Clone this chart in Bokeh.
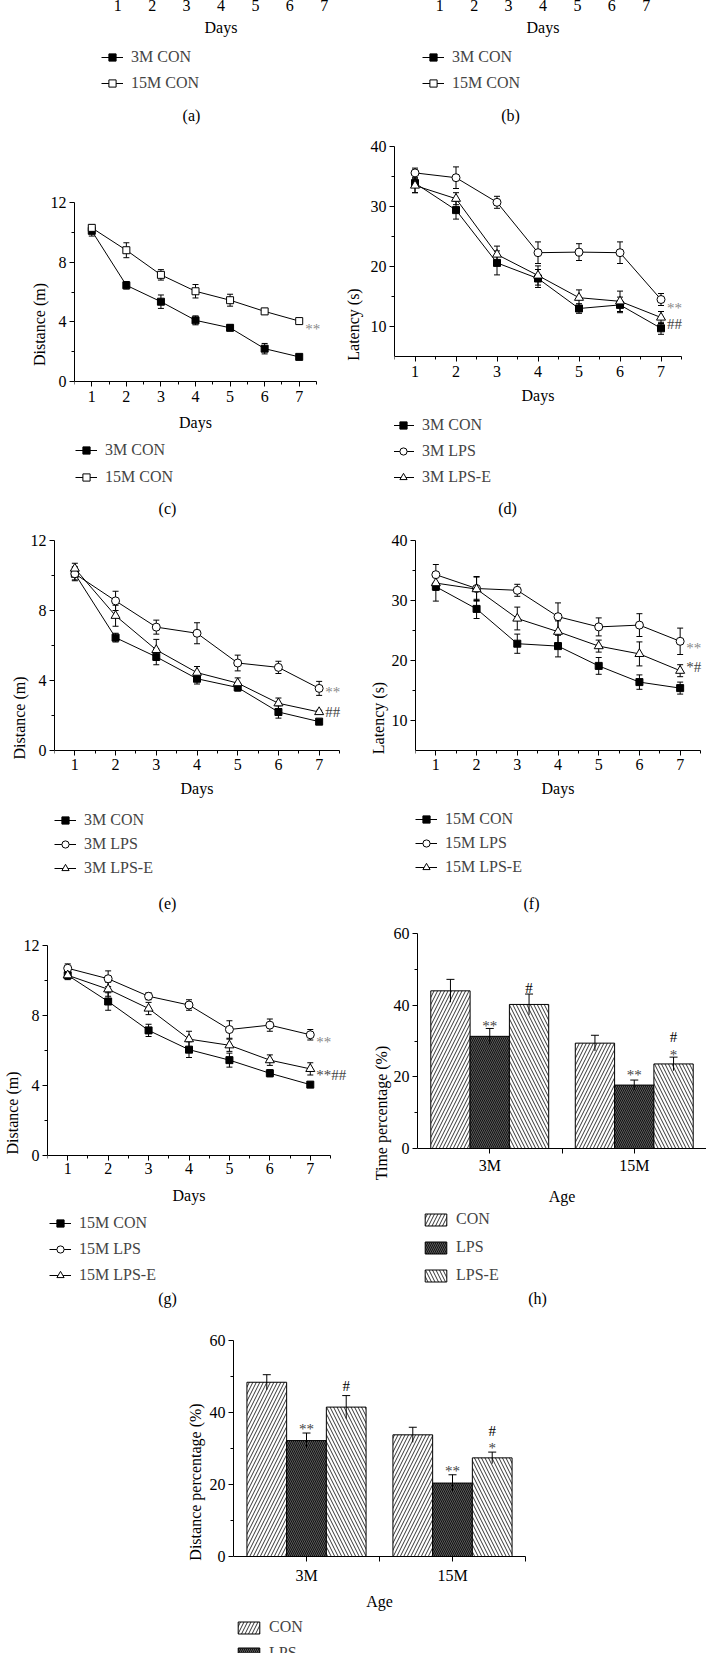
import numpy as np
from bokeh.plotting import figure
from bokeh.layouts import column, row
from bokeh.models import (ColumnDataSource, Legend, LegendItem, Whisker, TeeHead,
                          FixedTicker, Range1d, Label, LabelSet)
from bokeh.core.properties import value, field
from bokeh.embed import file_html
from bokeh.resources import INLINE

FONT = "Liberation Serif"

# ---------------- data ----------------
days = [1, 2, 3, 4, 5, 6, 7]
half_days = [0.5, 1.5, 2.5, 3.5, 4.5, 5.5, 6.5, 7.5]

dist_3m_con = [10.1, 6.45, 5.35, 4.1, 3.6, 2.2, 1.65]
dist_3m_con_err = [0.35, 0.25, 0.45, 0.3, 0.2, 0.35, 0.1]
dist_15m_con = [10.3, 8.8, 7.15, 6.05, 5.45, 4.7, 4.05]
dist_15m_con_err = [0.2, 0.5, 0.35, 0.45, 0.4, 0.2, 0.1]
dist_3m_lps = [10.1, 8.55, 7.05, 6.7, 5.0, 4.75, 3.55]
dist_3m_lps_err = [0.4, 0.55, 0.4, 0.6, 0.45, 0.35, 0.4]
dist_3m_lpse = [10.4, 7.7, 5.75, 4.45, 3.85, 2.7, 2.2]
dist_3m_lpse_err = [0.3, 0.6, 0.6, 0.35, 0.3, 0.3, 0.1]
dist_15m_lps = [10.7, 10.1, 9.1, 8.6, 7.2, 7.45, 6.9]
dist_15m_lps_err = [0.25, 0.45, 0.2, 0.3, 0.5, 0.35, 0.3]
dist_15m_lpse = [10.3, 9.5, 8.4, 6.65, 6.3, 5.45, 4.95]
dist_15m_lpse_err = [0.25, 0.4, 0.35, 0.45, 0.35, 0.3, 0.35]

lat_3m_con = [33.9, 29.4, 20.6, 18.0, 13.0, 13.6, 9.7]
lat_3m_con_err = [1.6, 1.5, 2.0, 1.5, 0.8, 1.3, 1.0]
lat_3m_lps = [35.6, 34.8, 30.7, 22.3, 22.4, 22.3, 14.5]
lat_3m_lps_err = [0.8, 1.8, 1.0, 1.8, 1.4, 1.8, 1.0]
lat_3m_lpse = [33.5, 31.3, 22.0, 18.5, 14.8, 14.2, 11.5]
lat_3m_lpse_err = [1.2, 1.0, 1.4, 1.6, 1.3, 1.7, 1.0]
lat_15m_con = [32.3, 28.6, 22.8, 22.4, 19.1, 16.4, 15.4]
lat_15m_con_err = [2.4, 1.6, 1.6, 1.8, 1.4, 1.2, 1.0]
lat_15m_lps = [34.3, 32.0, 31.7, 27.3, 25.6, 25.9, 23.2]
lat_15m_lps_err = [1.7, 2.0, 1.0, 2.3, 1.5, 1.9, 2.2]
lat_15m_lpse = [32.9, 31.9, 27.0, 24.8, 22.4, 21.1, 18.3]
lat_15m_lpse_err = [1.2, 2.0, 1.9, 1.8, 1.0, 2.0, 1.0]

ages = ["3M", "15M"]
groups = ["CON", "LPS", "LPS-E"]
time_pct_3m = [44.0, 31.3, 40.2]
time_pct_3m_err = [3.2, 2.2, 2.9]
time_pct_15m = [29.4, 17.7, 23.6]
time_pct_15m_err = [2.2, 1.4, 1.9]
dist_pct_3m = [48.4, 32.2, 41.5]
dist_pct_3m_err = [2.1, 2.1, 3.2]
dist_pct_15m = [33.8, 20.4, 27.4]
dist_pct_15m_err = [2.1, 2.3, 1.6]
marks_3m = ["", "**", "#"]
marks_15m = ["", "**", "*"]
marks_15m_top = ["", "", "#"]

GRAY = "#8a8a8a"
DARK = "#444444"


# ---------------- helpers ----------------
class Geo:
    """Maps page pixel positions of one panel onto its data ranges."""

    def __init__(self, x0, width, row_start, height, fl, fw, xlo, xhi, ylo, yhi, yt_abs, yb_abs):
        self.x0, self.width, self.row_start, self.height, self.fl = x0, width, row_start, height, fl
        self.xlo, self.ylo, self.yb_abs = xlo, ylo, yb_abs
        self.kx = fw / float(xhi - xlo)
        self.ky = (yb_abs - yt_abs) / float(yhi - ylo)
        yt, yb = yt_abs - row_start, yb_abs - row_start
        self.xr = (xlo, xlo + (width - fl) / self.kx)
        self.yr = (ylo - (height - yb) / self.ky, yhi + yt / self.ky)

    def to_data(self, xa, ya):
        return self.xlo + (xa - self.x0 - self.fl) / self.kx, self.ylo - (ya - self.yb_abs) / self.ky

    def legend_loc(self, glyph_x_abs, r1_abs, n, rowh, pitch):
        hleg = n * rowh + (n - 1) * (pitch - rowh)
        vy = (self.row_start + self.height) - (r1_abs - rowh / 2.0) - hleg
        return (glyph_x_abs - self.x0 - self.fl, vy)


def new_fig(g, **kw):
    p = figure(width=g.width, height=g.height, x_range=Range1d(*g.xr), y_range=Range1d(*g.yr),
               output_backend="svg", toolbar_location=None, title=None,
               min_border_left=g.fl, min_border_right=0, min_border_top=0, min_border_bottom=0,
               **kw)
    p.outline_line_color = None
    p.grid.visible = False
    p.background_fill_color = "white"
    p.border_fill_color = "white"
    return p


def style_axis(ax, standoff, lab_standoff, fs="16px"):
    ax.axis_line_color = "black"
    ax.axis_line_width = 1
    ax.major_tick_line_color = "black"
    ax.minor_tick_line_color = "black"
    ax.major_tick_in = 0
    ax.major_tick_out = 5
    ax.minor_tick_in = 0
    ax.minor_tick_out = 3
    ax.major_label_text_font = FONT
    ax.major_label_text_font_size = fs
    ax.major_label_text_color = "black"
    ax.major_label_standoff = standoff
    ax.axis_label_text_font = FONT
    ax.axis_label_text_font_size = fs
    ax.axis_label_text_font_style = "normal"
    ax.axis_label_text_color = "black"
    ax.axis_label_standoff = lab_standoff


MARKERS = {"sq": dict(marker="square", size=7, fill_color="black"),
           "sqo": dict(marker="square", size=7, fill_color="white"),
           "ci": dict(marker="circle", size=8, fill_color="white"),
           "tr": dict(marker="triangle", size=9, fill_color="white")}


def draw_series(p, vals, errs, mk):
    src = ColumnDataSource(dict(x=days, y=vals,
                                lo=[v - e for v, e in zip(vals, errs)],
                                hi=[v + e for v, e in zip(vals, errs)]))
    p.add_layout(Whisker(source=src, base="x", lower="lo", upper="hi",
                         line_color="black", line_width=1,
                         upper_head=TeeHead(size=6, line_color="black", line_width=1),
                         lower_head=TeeHead(size=6, line_color="black", line_width=1)))
    lr = p.line("x", "y", source=src, line_color="black", line_width=1)
    sr = p.scatter("x", "y", source=src, line_color="black", line_width=1, **MARKERS[mk])
    return [lr, sr]


def add_legend(p, g, items, glyph_x, r1, pitch, rowh=18, glyph_w=22, glyph_h=18, standoff=8):
    leg = Legend(items=items, location=g.legend_loc(glyph_x, r1, len(items), rowh, pitch),
                 orientation="vertical", border_line_color=None, background_fill_alpha=0,
                 label_text_font=FONT, label_text_font_size="16px",
                 glyph_width=glyph_w, glyph_height=glyph_h, label_height=rowh,
                 label_standoff=standoff, spacing=int(round(pitch - rowh)), padding=0, margin=0)
    p.add_layout(leg, "center")


def add_caption(p, g, text, cx, cy):
    x, y = g.to_data(cx, cy)
    p.add_layout(Label(x=x, y=y, text=text, text_align="center", text_baseline="middle",
                       text_font=FONT, text_font_size="16px", text_color="black"))


def add_notes(p, notes, dx=6, fs="15px"):
    src = ColumnDataSource(dict(x=[7] * len(notes), y=[n[1] for n in notes],
                                t=[n[0] for n in notes], dy=[n[2] for n in notes],
                                c=[n[3] for n in notes]))
    p.add_layout(LabelSet(x="x", y="y", text="t", source=src, x_offset=dx, y_offset="dy",
                          text_color=field("c"), text_font=value(FONT),
                          text_font_size=value(fs), text_baseline="middle",
                          text_align="left"))


def line_panel(g, ymin, ymaj, yminor, ylabel, series, notes, caption, cap_xy,
               glyph_x, r1, pitch, xs_off, xl_off, ys_off, yl_off):
    p = new_fig(g)
    p.xaxis.fixed_location = ymin
    p.xaxis.bounds = (0.5, 7.5)
    p.yaxis.bounds = (ymin, ymaj[-1])
    p.xaxis.ticker = FixedTicker(ticks=days, minor_ticks=half_days)
    p.yaxis.ticker = FixedTicker(ticks=ymaj, minor_ticks=yminor)
    p.xaxis.axis_label = "Days"
    p.yaxis.axis_label = ylabel
    style_axis(p.xaxis[0], xs_off, xl_off)
    style_axis(p.yaxis[0], ys_off, yl_off)
    items = []
    for label, vals, errs, mk in series:
        items.append(LegendItem(label=label, renderers=draw_series(p, vals, errs, mk)))
    add_legend(p, g, items, glyph_x, r1, pitch)
    add_caption(p, g, caption, *cap_xy)
    add_notes(p, notes)
    return p


def top_panel(g, caption, cap_xy, glyph_x, r1, pitch):
    # panels (a)/(b) are cropped by the page edge: only their x axis labels,
    # legends and captions remain visible
    p = new_fig(g, y_axis_location=None)
    p.xaxis.fixed_location = 0
    p.xaxis.bounds = (0.5, 7.5)
    p.xaxis.ticker = FixedTicker(ticks=days, minor_ticks=[])
    p.xaxis.axis_label = "Days"
    style_axis(p.xaxis[0], 0, 5)
    p.xaxis.axis_line_color = None
    p.xaxis.major_tick_line_color = None
    p.xaxis.minor_tick_line_color = None
    p.xaxis.major_tick_out = 0
    p.xaxis.minor_tick_out = 0
    items = []
    for label, mk in (("3M CON", "sq"), ("15M CON", "sqo")):
        src = ColumnDataSource(dict(x=np.array(days, dtype=float),
                                    y=np.full(len(days), np.nan)))
        lr = p.line("x", "y", source=src, line_color="black", line_width=1)
        sr = p.scatter("x", "y", source=src, line_color="black", line_width=1, **MARKERS[mk])
        items.append(LegendItem(label=label, renderers=[lr, sr]))
    add_legend(p, g, items, glyph_x, r1, pitch)
    add_caption(p, g, caption, *cap_xy)
    return p


BAR_STYLE = [dict(fill_color="white", hatch_pattern="right_diagonal_line", hatch_scale=7),
             dict(fill_color="#5a5a5a", hatch_pattern="left_diagonal_line", hatch_scale=4),
             dict(fill_color="white", hatch_pattern="left_diagonal_line", hatch_scale=7)]


def bar_panel(g, ylabel, v3, e3, v15, e15, mark_dys, caption, cap_xy, glyph_x, r1, pitch,
              xs_off, xl_off, ys_off, yl_off):
    p = new_fig(g)
    p.xaxis.fixed_location = 0
    p.xaxis.bounds = (0.5, 2.5)
    p.yaxis.bounds = (0, 60)
    p.xaxis.ticker = FixedTicker(ticks=[1, 2], minor_ticks=[1.5, 2.5])
    p.xaxis.major_label_overrides = {1: ages[0], 2: ages[1]}
    p.yaxis.ticker = FixedTicker(ticks=[0, 20, 40, 60], minor_ticks=[10, 30, 50])
    p.xaxis.axis_label = "Age"
    p.yaxis.axis_label = ylabel
    style_axis(p.xaxis[0], xs_off, xl_off)
    style_axis(p.yaxis[0], ys_off, yl_off)
    p.xaxis.minor_tick_out = 5
    bw = 0.272
    items = []
    nx, ny, nt, nd, nc = [], [], [], [], []
    for gi, grp in enumerate(groups):
        xs = [k + 1 + (gi - 1) * bw for k in range(len(ages))]
        tops = [v3[gi], v15[gi]]
        errs = [e3[gi], e15[gi]]
        src = ColumnDataSource(dict(x=xs, top=tops,
                                    lo=[t - e for t, e in zip(tops, errs)],
                                    hi=[t + e for t, e in zip(tops, errs)]))
        r = p.vbar(x="x", top="top", bottom=0, width=bw, source=src,
                   line_color="black", line_width=1, hatch_color="black",
                   hatch_weight=0.8, **BAR_STYLE[gi])
        p.add_layout(Whisker(source=src, base="x", lower="lo", upper="hi",
                             line_color="black", line_width=1, level="annotation",
                             upper_head=TeeHead(size=8, line_color="black", line_width=1),
                             lower_head=None))
        items.append(LegendItem(label=grp, renderers=[r]))
        for k, marks in enumerate((marks_3m, marks_15m)):
            if marks[gi]:
                nx.append(xs[k]); ny.append(tops[k] + errs[k]); nt.append(marks[gi])
                nd.append(mark_dys[(k, gi, 0)]); nc.append(DARK if "*" in marks[gi] else "black")
        if marks_15m_top[gi]:
            nx.append(xs[1]); ny.append(tops[1] + errs[1]); nt.append(marks_15m_top[gi])
            nd.append(mark_dys[(1, gi, 1)]); nc.append("black")
    add_legend(p, g, items, glyph_x, r1, pitch, glyph_w=27, glyph_h=15, standoff=7)
    if caption:
        add_caption(p, g, caption, *cap_xy)
    src = ColumnDataSource(dict(x=nx, y=ny, t=nt, dy=nd, c=nc))
    p.add_layout(LabelSet(x="x", y="y", text="t", source=src, y_offset="dy",
                          text_color=field("c"), text_font=value(FONT),
                          text_font_size=value("15px"), text_baseline="middle",
                          text_align="center"))
    return p


# ---------------- panels (positions in page pixels) ----------------
ga = Geo(0, 361, -8, 136, 108, 241, 0.5, 7.5, 0, 10, -11, -1)
gb = Geo(361, 353, -8, 136, 69, 241, 0.5, 7.5, 0, 10, -11, -1)
pa = top_panel(ga, "(a)", (199, 115), 109, 57, 26)
pb = top_panel(gb, "(b)", (518, 115), 430, 57, 26)

gc = Geo(0, 346, 128, 392, 82, 242, 0.5, 7.5, 0, 12, 202, 381)
pc = line_panel(gc, 0, [0, 4, 8, 12], [2, 6, 10], "Distance (m)",
                [("3M CON", dist_3m_con, dist_3m_con_err, "sq"),
                 ("15M CON", dist_15m_con, dist_15m_con_err, "sqo")],
                [("**", dist_15m_con[-1], -8, GRAY)],
                "(c)", (175, 508), 83, 450, 27, 4, 9, 3, 0)

gd = Geo(346, 368, 128, 392, 56, 287, 0.5, 7.5, 5, 40, 146, 356)
pd = line_panel(gd, 5, [10, 20, 30, 40], [15, 25, 35], "Latency (s)",
                [("3M CON", lat_3m_con, lat_3m_con_err, "sq"),
                 ("3M LPS", lat_3m_lps, lat_3m_lps_err, "ci"),
                 ("3M LPS-E", lat_3m_lpse, lat_3m_lpse_err, "tr")],
                [("**", lat_3m_lps[-1], -8, GRAY), ("##", lat_3m_lpse[-1], -6, DARK)],
                "(d)", (515, 508), 400, 425, 26, 4, 7, 3, 6)

ge = Geo(0, 355, 520, 395, 62, 285, 0.5, 7.5, 0, 12, 540, 750)
pe = line_panel(ge, 0, [0, 4, 8, 12], [2, 6, 10], "Distance (m)",
                [("3M CON", dist_3m_con, dist_3m_con_err, "sq"),
                 ("3M LPS", dist_3m_lps, dist_3m_lps_err, "ci"),
                 ("3M LPS-E", dist_3m_lpse, dist_3m_lpse_err, "tr")],
                [("**", dist_3m_lps[-1], -4, GRAY), ("##", dist_3m_lpse[-1], 0, DARK)],
                "(e)", (175, 903), 62, 820, 24, 3, 7, 3, 0)

gf = Geo(355, 359, 520, 395, 68, 285, 0.5, 7.5, 5, 40, 540, 750)
pf = line_panel(gf, 5, [10, 20, 30, 40], [15, 25, 35], "Latency (s)",
                [("15M CON", lat_15m_con, lat_15m_con_err, "sq"),
                 ("15M LPS", lat_15m_lps, lat_15m_lps_err, "ci"),
                 ("15M LPS-E", lat_15m_lpse, lat_15m_lpse_err, "tr")],
                [("**", lat_15m_lps[-1], -7, GRAY), ("*#", lat_15m_lpse[-1], 4, DARK)],
                "(f)", (539, 903), 423, 819, 24, 3, 7, 3, 2)

gg = Geo(0, 358, 915, 395, 55, 283, 0.5, 7.5, 0, 12, 945, 1155)
pg = line_panel(gg, 0, [0, 4, 8, 12], [2, 6, 10], "Distance (m)",
                [("15M CON", dist_15m_con, dist_15m_con_err, "sq"),
                 ("15M LPS", dist_15m_lps, dist_15m_lps_err, "ci"),
                 ("15M LPS-E", dist_15m_lpse, dist_15m_lpse_err, "tr")],
                [("**", dist_15m_lps[-1], -7, GRAY), ("**##", dist_15m_lpse[-1], -6, DARK)],
                "(g)", (175, 1298), 57, 1223, 26, 2, 10, 3, 0)

gh = Geo(358, 356, 915, 395, 67, 289, 0.5, 2.5, 0, 60, 933, 1148)
dys_h = {(0, 1, 0): 2, (0, 2, 0): 6, (1, 1, 0): 5, (1, 2, 0): 2, (1, 2, 1): 20}
ph = bar_panel(gh, "Time percentage (%)",
               time_pct_3m, time_pct_3m_err, time_pct_15m, time_pct_15m_err, dys_h,
               "(h)", (545, 1298), 430, 1220, 27.5, 3, 11, 3, 1)

gi_ = Geo(0, 714, 1310, 343, 241, 292, 0.5, 2.5, 0, 60, 1340, 1556)
dys_i = {(0, 1, 0): 4, (0, 2, 0): 10, (1, 1, 0): 4, (1, 2, 0): 4, (1, 2, 1): 21}
pi = bar_panel(gi_, "Distance percentage (%)",
               dist_pct_3m, dist_pct_3m_err, dist_pct_15m, dist_pct_15m_err, dys_i,
               None, None, 243, 1627, 26, 5, 6, 3, 3)

root = column(row(pa, pb), row(pc, pd), row(pe, pf), row(pg, ph), pi,
              margin=(-8, 0, 0, -8))

open("out.html", "w").write(file_html(root, INLINE))
